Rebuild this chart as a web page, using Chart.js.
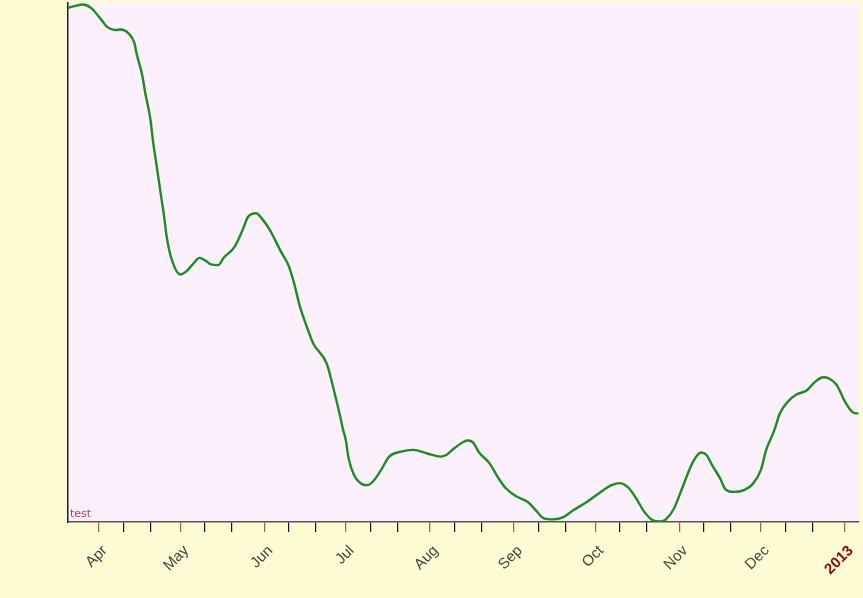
<!DOCTYPE html>
<html><head><meta charset="utf-8">
<script src="https://cdn.jsdelivr.net/npm/chart.js@4/dist/chart.umd.min.js"></script>
<style>html,body{margin:0;padding:0;background:#FDFBD3;overflow:hidden;}</style>
</head><body>
<canvas id="c" width="863" height="598" style="display:block;width:863px;height:598px"></canvas>
<script>
const seriesLabel = 'test';
const monthLabels = ['Jan','Feb','Mar','Apr','May','Jun','Jul','Aug','Sep','Oct','Nov','Dec'];
const dates = [
 '2012-03-20','2012-03-23','2012-03-26','2012-03-29','2012-03-30','2012-04-02','2012-04-04','2012-04-07','2012-04-09','2012-04-12',
 '2012-04-14','2012-04-15','2012-04-17','2012-04-18','2012-04-20','2012-04-21','2012-04-22','2012-04-24','2012-04-25','2012-04-26',
 '2012-04-28','2012-05-01','2012-05-03','2012-05-06','2012-05-08','2012-05-11','2012-05-12','2012-05-15','2012-05-17','2012-05-21',
 '2012-05-24','2012-05-26','2012-05-29','2012-05-31','2012-06-03','2012-06-07','2012-06-10','2012-06-12','2012-06-14','2012-06-17',
 '2012-06-19','2012-06-24','2012-06-26','2012-06-29','2012-06-30','2012-07-01','2012-07-02','2012-07-04','2012-07-07','2012-07-09',
 '2012-07-11','2012-07-14','2012-07-17','2012-07-21','2012-07-26','2012-07-31','2012-08-05','2012-08-07','2012-08-10','2012-08-15',
 '2012-08-17','2012-08-19','2012-08-23','2012-08-26','2012-08-29','2012-09-02','2012-09-06','2012-09-09','2012-09-12','2012-09-15',
 '2012-09-19','2012-09-23','2012-09-28','2012-10-03','2012-10-07','2012-10-10','2012-10-13','2012-10-16','2012-10-19','2012-10-22',
 '2012-10-25','2012-10-27','2012-10-30','2012-11-02','2012-11-06','2012-11-09','2012-11-11','2012-11-13','2012-11-16','2012-11-18',
 '2012-11-21','2012-11-25','2012-11-28','2012-12-01','2012-12-03','2012-12-06','2012-12-08','2012-12-11','2012-12-14','2012-12-18',
 '2012-12-21','2012-12-24','2012-12-26','2012-12-29','2013-01-01','2013-01-04','2013-01-06'
];
const values = [
 99.0,99.4,99.7,99.1,98.6,96.7,95.4,94.8,94.9,94.1,
 92.4,90.0,86.0,82.9,77.5,73.1,69.6,62.5,59.0,54.9,
 50.3,47.7,48.2,49.9,50.9,50.1,49.7,49.5,50.9,53.0,
 56.3,58.8,59.5,58.5,56.3,52.2,49.3,45.9,41.7,37.1,
 34.4,30.5,26.7,20.2,17.8,15.8,12.4,9.1,7.3,7.1,
 7.8,10.0,12.6,13.5,13.9,13.2,12.6,12.9,14.2,15.7,
 15.3,13.5,11.3,8.7,6.5,4.9,3.9,2.3,0.7,0.5,
 0.9,2.3,3.9,5.8,7.1,7.5,6.7,4.6,2.0,0.4,
 0.1,0.5,2.6,6.5,11.6,13.4,12.9,11.0,8.4,6.3,
 5.8,6.2,7.3,10.0,13.9,17.7,20.9,23.2,24.5,25.4,
 27.0,27.9,27.7,26.4,23.2,21.1,20.9
];
const tickDays = [1, 10, 20];

const EPOCH = Date.UTC(2012, 0, 1);
function dayNum(s) { const p = s.split('-').map(Number); return (Date.UTC(p[0], p[1]-1, p[2]) - EPOCH) / 86400000; }
function fromDay(n) { return new Date(EPOCH + n * 86400000); }

const X_MIN = 79.6, X_MAX = 371.2;
const points = dates.map((d, i) => ({ x: dayNum(d), y: values[i] }));

const tickList = [];
for (let y = 2012; y <= 2013; y++) {
  for (let m = 0; m < 12; m++) {
    for (const d of tickDays) {
      const v = (Date.UTC(y, m, d) - EPOCH) / 86400000;
      if (v >= X_MIN && v <= X_MAX) tickList.push(v);
    }
  }
}
function isMonthStart(v) { return fromDay(v).getUTCDate() === 1; }
function isYearStart(v) { const d = fromDay(v); return d.getUTCDate() === 1 && d.getUTCMonth() === 0; }

const bgPlugin = {
  id: 'bg',
  beforeDraw(chart) {
    const { ctx, chartArea: a } = chart;
    ctx.save();
    ctx.fillStyle = '#FDFBD3';
    ctx.fillRect(0, 0, chart.width, chart.height);
    ctx.fillStyle = '#FCF0FC';
    ctx.fillRect(a.left, a.top, a.right - a.left, a.bottom - a.top);
    ctx.restore();
  },
  afterDraw(chart) {
    const { ctx, chartArea: a } = chart;
    ctx.save();
    ctx.fillStyle = '#BC3C58';
    ctx.font = '11px "DejaVu Sans", sans-serif';
    ctx.textBaseline = 'bottom';
    ctx.fillText(seriesLabel, a.left + 2, a.bottom - 2);
    ctx.restore();
  }
};

new Chart(document.getElementById('c'), {
  type: 'line',
  data: { datasets: [{
    label: seriesLabel, data: points,
    borderColor: '#1E8C24', borderWidth: 2.4, pointRadius: 0,
    cubicInterpolationMode: 'monotone', fill: false
  }]},
  options: {
    responsive: false, animation: false,
    layout: { padding: { top: 3, right: 4, left: 0, bottom: 0 } },
    plugins: { legend: { display: false }, tooltip: { enabled: false } },
    scales: {
      x: {
        type: 'linear', min: X_MIN, max: X_MAX,
        afterBuildTicks(scale) { scale.ticks = tickList.map(v => ({ value: v })); },
        afterFit(scale) { scale.height = 76; scale.paddingRight = 0; scale.paddingLeft = 0; },
        border: { display: true, color: '#555', width: 1.5 },
        grid: {
          display: true, drawOnChartArea: false, drawTicks: true, tickLength: 10,
          color: ctx => (ctx.tick && isMonthStart(ctx.tick.value)) ? '#C8503C' : '#111',
          lineWidth: 1.2
        },
        ticks: {
          autoSkip: false, minRotation: 45, maxRotation: 45, padding: 10, labelOffset: 6,
          color: ctx => (ctx.tick && isYearStart(ctx.tick.value)) ? '#8B0A0A' : '#444',
          font: ctx => (ctx.tick && isYearStart(ctx.tick.value))
            ? { family: 'Liberation Sans, Arial, sans-serif', size: 15, weight: 'bold' }
            : { family: 'Liberation Sans, Arial, sans-serif', size: 15 },
          callback(v) {
            if (!isMonthStart(v)) return '';
            const d = fromDay(v);
            return d.getUTCMonth() === 0 ? String(d.getUTCFullYear()) : monthLabels[d.getUTCMonth()];
          }
        }
      },
      y: {
        min: 0, max: 100,
        afterFit(scale) { scale.width = 68; },
        border: { display: true, color: '#222', width: 1.5 },
        grid: { display: false },
        ticks: { display: false }
      }
    }
  },
  plugins: [bgPlugin]
});
</script>
</body></html>
